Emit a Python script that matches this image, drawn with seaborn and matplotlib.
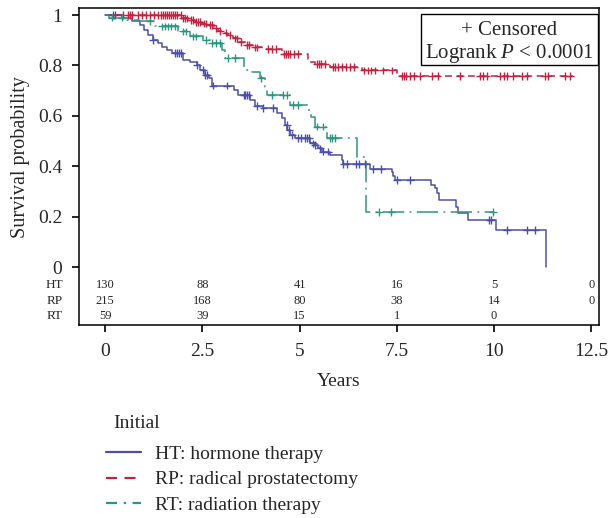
import numpy as np
import pandas as pd
import matplotlib
matplotlib.use("Agg")
import matplotlib.pyplot as plt
import matplotlib.transforms as mtransforms
from matplotlib.lines import Line2D
from matplotlib.patches import Rectangle
import seaborn as sns

# ---------------- data ----------------
groups = ["HT", "RP", "RT"]
labels = ["HT: hormone therapy", "RP: radical prostatectomy", "RT: radiation therapy"]

ht_t = [0, 0.43, 0.69, 0.90, 0.99, 1.11, 1.24, 1.36, 1.46, 1.59, 1.71, 2.01, 2.19, 2.36,
        2.44, 2.57, 2.66, 2.74, 3.32, 3.43, 3.73, 3.86, 4.07, 4.41, 4.54, 4.63, 4.69, 4.76,
        4.88, 5.27, 5.40, 5.48, 5.57, 5.78, 6.08, 6.13, 6.81, 7.37, 7.41, 7.46, 8.38, 8.48,
        8.53, 8.58, 9.02, 9.08, 9.34, 10.05, 11.34]
ht_s = [1, 0.99, 0.975, 0.962, 0.942, 0.922, 0.902, 0.888, 0.875, 0.862, 0.849, 0.823, 0.813,
        0.803, 0.783, 0.763, 0.749, 0.72, 0.702, 0.683, 0.663, 0.639, 0.630, 0.610, 0.590,
        0.563, 0.544, 0.524, 0.511, 0.491, 0.484, 0.471, 0.458, 0.444, 0.425, 0.41, 0.39,
        0.378, 0.36, 0.345, 0.325, 0.312, 0.295, 0.266, 0.239, 0.213, 0.187, 0.148, 0.0]
ht_cens = [0.21, 1.24, 1.80, 1.85, 1.90, 1.95, 2.36, 2.53, 2.58, 2.62, 2.78, 3.13, 3.56,
           3.60, 3.65, 3.69, 3.90, 4.07, 4.33, 4.68, 4.74, 4.80, 4.97, 5.05, 5.14, 5.35,
           5.18, 5.25, 5.40, 5.53, 5.60, 5.74, 6.13, 6.21, 6.45, 6.52, 6.68, 6.90, 7.09,
           7.51, 7.84, 9.88, 9.93, 10.33, 10.85, 11.05]

rp_t = [0, 1.97, 2.14, 2.31, 2.49, 2.66, 2.79, 2.91, 3.04, 3.13, 3.30, 3.43, 3.60, 3.81,
        4.03, 4.54, 5.23, 5.40, 5.78, 6.60, 7.50]
rp_s = [1, 0.987, 0.98, 0.973, 0.966, 0.96, 0.947, 0.937, 0.93, 0.921, 0.907, 0.894, 0.881,
        0.872, 0.866, 0.845, 0.815, 0.806, 0.795, 0.78, 0.757]
rp_end = 12.04
rp_cens = [0.25, 0.45, 0.6, 0.65, 0.7, 0.85, 0.95, 1.05, 1.15, 1.25, 1.35, 1.45, 1.5, 1.55,
           1.6, 1.65, 1.7, 1.75, 1.8, 1.85, 1.95, 2.0, 2.05, 2.1, 2.2, 2.25, 2.35, 2.4, 2.45,
           2.55, 2.6, 2.7, 2.75, 2.85, 2.95, 3.1, 3.2, 3.35, 3.4, 3.5, 3.65, 3.7, 3.85, 3.9,
           4.2, 4.3, 4.4, 4.6, 4.65, 4.7, 4.75, 4.85, 4.95, 5.45, 5.5, 5.55, 5.65, 5.85, 5.9,
           6.0, 6.1, 6.2, 6.3, 6.4, 6.65, 6.75, 6.85, 6.95, 7.15, 7.37, 7.63, 7.68, 7.75,
           7.85, 7.95, 8.1, 8.4, 8.55, 9.13, 9.64, 9.72, 9.81, 10.15, 10.25, 10.33, 10.5,
           10.72, 10.84, 11.31, 11.4, 11.83, 11.96]

rt_t = [0, 0.09, 0.56, 0.86, 1.29, 1.88, 2.19, 2.53, 2.70, 3.00, 3.08, 3.56, 3.77, 3.98,
        4.12, 4.16, 4.76, 5.23, 5.30, 5.40, 5.70, 6.47, 6.72]
rt_s = [1, 0.99, 0.982, 0.975, 0.955, 0.935, 0.915, 0.902, 0.889, 0.86, 0.829, 0.782, 0.775,
        0.749, 0.716, 0.683, 0.643, 0.625, 0.597, 0.557, 0.511, 0.435, 0.219]
rt_end = 9.98
rt_cens = [0.17, 0.43, 1.16, 1.46, 1.55, 1.62, 1.70, 1.80, 2.0, 2.08, 2.25, 2.35, 2.6, 2.75,
           2.85, 2.95, 3.15, 3.35, 4.0, 4.28, 4.58, 4.67, 4.84, 4.97, 5.44, 5.61, 5.78,
           5.83, 5.91, 7.04, 7.36, 9.98]

risk_times = [0, 2.5, 5, 7.5, 10, 12.5]
risk_ht = [130, 88, 41, 16, 5, 0]
risk_rp = [215, 168, 80, 38, 14, 0]
risk_rt = [59, 39, 15, 1, 0]

xticks = [0, 2.5, 5, 7.5, 10, 12.5]
xticklabels = ["0", "2.5", "5", "7.5", "10", "12.5"]
yticks = [0, 0.2, 0.4, 0.6, 0.8, 1.0]
yticklabels = ["0", "0.2", "0.4", "0.6", "0.8", "1"]

colors = {"HT": "#4B4FA6", "RP": "#BF2441", "RT": "#2F9582"}

# ---------------- build tables ----------------
curves = []
curves.append(pd.DataFrame({"time": ht_t, "surv": ht_s, "group": "HT"}))
curves.append(pd.DataFrame({"time": rp_t + [rp_end], "surv": rp_s + [rp_s[-1]], "group": "RP"}))
curves.append(pd.DataFrame({"time": rt_t + [rt_end], "surv": rt_s + [rt_s[-1]], "group": "RT"}))
curve_df = pd.concat(curves, ignore_index=True)


def surv_at(tt, ss, c):
    idx = np.searchsorted(np.asarray(tt), np.asarray(c), side="right") - 1
    return np.asarray(ss)[idx]


cens_df = pd.concat([
    pd.DataFrame({"time": ht_cens, "surv": surv_at(ht_t, ht_s, ht_cens), "group": "HT"}),
    pd.DataFrame({"time": rp_cens, "surv": surv_at(rp_t, rp_s, rp_cens), "group": "RP"}),
    pd.DataFrame({"time": rt_cens, "surv": surv_at(rt_t, rt_s, rt_cens), "group": "RT"}),
], ignore_index=True)

# ---------------- styling ----------------
sns.set_theme(style="white")
plt.rcParams["font.family"] = ["Liberation Serif", "DejaVu Serif"]
plt.rcParams["mathtext.fontset"] = "custom"
plt.rcParams["mathtext.rm"] = "Liberation Serif"
plt.rcParams["mathtext.it"] = "Liberation Serif:italic"

fig = plt.figure(figsize=(6.08, 5.18), dpi=100)
ax = fig.add_axes([79 / 608, 1 - 325 / 518, 520 / 608, 317 / 518])

lw = 1.1
dashes = {"HT": "", "RP": (4.5, 3.0), "RT": (14, 3.5, 1.2, 3.5)}
sns.lineplot(data=curve_df, x="time", y="surv", hue="group", style="group",
             palette=colors, dashes=dashes, hue_order=groups, style_order=groups,
             drawstyle="steps-post", estimator=None, legend=False, lw=lw, ax=ax)
sns.scatterplot(data=cens_df, x="time", y="surv", hue="group", palette=colors,
                hue_order=groups, marker="+", s=30, linewidth=1.0, legend=False, ax=ax,
                zorder=3)

ax.set_xlim(-0.67, 12.70)
ax.set_ylim(-0.230, 1.028)
ax.set_xticks(xticks)
ax.set_xticklabels(xticklabels)
ax.set_yticks(yticks)
ax.set_yticklabels(yticklabels)
ax.tick_params(axis="both", which="both", direction="out", length=5, width=1.2,
               labelsize=14, color="black", bottom=True, left=True)
ax.tick_params(axis="x", pad=8)
ax.tick_params(axis="y", pad=7)
for sp in ax.spines.values():
    sp.set_visible(True)
    sp.set_color("black")
    sp.set_linewidth(1.1)
ax.set_xlabel("Years", fontsize=14, labelpad=9)
ax.set_ylabel("Survival probability", fontsize=14.5)
ax.yaxis.set_label_coords(-0.095, 0.53)

# number at risk table
row_y = [-0.071, -0.133, -0.196]
trans = mtransforms.blended_transform_factory(ax.transAxes, ax.transData)
for g, vals, yy in zip(groups, [risk_ht, risk_rp, risk_rt], row_y):
    ax.text(-0.031, yy, g, transform=trans, ha="right", va="center", fontsize=9.5)
    for t, v in zip(risk_times, vals):
        ax.text(t, yy, str(v), ha="center", va="center", fontsize=9)

# censored / logrank box
ax.add_patch(Rectangle((0.6577, 0.8202), 0.3404, 0.1609, transform=ax.transAxes,
                       fc="white", ec="black", lw=1.0, zorder=4))
ax.text(0.828, 0.930, "+ Censored", transform=ax.transAxes, ha="center", va="center",
        fontsize=15, zorder=5)
ax.text(0.828, 0.858, "Logrank $\\it{P}$ < 0.0001", transform=ax.transAxes, ha="center",
        va="center", fontsize=15, zorder=5)

# legend below
fig.text(113 / 608, 1 - 424 / 518, "Initial", ha="left", va="center", fontsize=14)
handles = [
    Line2D([], [], color=colors["HT"], lw=1.6),
    Line2D([], [], color=colors["RP"], lw=1.6, dashes=(5, 3.3)),
    Line2D([], [], color=colors["RT"], lw=1.6, dashes=(5, 3, 1, 3), dash_capstyle="butt"),
]
leg = fig.legend(handles, labels, loc="upper left",
                 bbox_to_anchor=(106 / 608, 1 - 445 / 518), frameon=False, fontsize=14,
                 handlelength=1.8, handletextpad=0.72, labelspacing=0.42,
                 borderaxespad=0, borderpad=0)

fig.savefig("out.png", dpi=100)
